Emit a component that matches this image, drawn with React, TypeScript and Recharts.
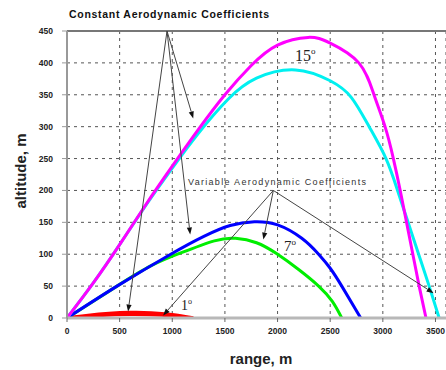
import React from 'react'
import { LineChart, Line, XAxis, YAxis, CartesianGrid, ReferenceLine, Customized } from 'recharts'

type Pt = { range: number; alt: number }

const RANGE_TICKS = [0, 500, 1000, 1500, 2000, 2500, 3000, 3500]
const ALT_TICKS = [0, 50, 100, 150, 200, 250, 300, 350, 400, 450]

// 15 deg, constant coefficients
const MAGENTA: Pt[] = [
  { range: 0, alt: 0 }, { range: 250, alt: 55 }, { range: 500, alt: 115 }, { range: 750, alt: 178 },
  { range: 1000, alt: 238 }, { range: 1250, alt: 296 }, { range: 1500, alt: 350 }, { range: 1750, alt: 396 },
  { range: 2000, alt: 428 }, { range: 2290, alt: 440 }, { range: 2500, alt: 431 }, { range: 2772, alt: 400 },
  { range: 2916, alt: 350 }, { range: 3021, alt: 300 }, { range: 3100, alt: 250 }, { range: 3165, alt: 200 },
  { range: 3225, alt: 150 }, { range: 3285, alt: 100 }, { range: 3345, alt: 50 }, { range: 3410, alt: 0 },
]
// 15 deg, variable coefficients
const CYAN: Pt[] = [
  { range: 0, alt: 0 }, { range: 250, alt: 55 }, { range: 500, alt: 115 }, { range: 750, alt: 177 },
  { range: 1000, alt: 235 }, { range: 1250, alt: 290 }, { range: 1530, alt: 343 }, { range: 1800, alt: 376 },
  { range: 2170, alt: 389 }, { range: 2500, alt: 372 }, { range: 2700, alt: 346 }, { range: 2870, alt: 300 },
  { range: 3030, alt: 250 }, { range: 3140, alt: 200 }, { range: 3240, alt: 150 }, { range: 3340, alt: 100 },
  { range: 3440, alt: 50 }, { range: 3535, alt: 0 },
]
// 7 deg
const BLUE: Pt[] = [
  { range: 0, alt: 0 }, { range: 475, alt: 50 }, { range: 985, alt: 100 }, { range: 1300, alt: 128 },
  { range: 1550, alt: 145 }, { range: 1780, alt: 151 }, { range: 2000, alt: 146 }, { range: 2230, alt: 125 },
  { range: 2390, alt: 100 }, { range: 2500, alt: 78 }, { range: 2610, alt: 50 }, { range: 2790, alt: 0 },
]
const GREEN: Pt[] = [
  { range: 0, alt: 0 }, { range: 475, alt: 50 }, { range: 800, alt: 82 }, { range: 1080, alt: 102 },
  { range: 1400, alt: 121 }, { range: 1600, alt: 125 }, { range: 1800, alt: 118 }, { range: 1990, alt: 101 },
  { range: 2200, alt: 76 }, { range: 2390, alt: 50 }, { range: 2520, alt: 26 }, { range: 2610, alt: 0 },
]
// 1 deg
const RED_A: Pt[] = [
  { range: 0, alt: 0 }, { range: 200, alt: 4 }, { range: 400, alt: 7 }, { range: 600, alt: 8.5 },
  { range: 800, alt: 8 }, { range: 1000, alt: 5 }, { range: 1200, alt: 0 },
]
const RED_B: Pt[] = [
  { range: 0, alt: 0 }, { range: 300, alt: 4 }, { range: 600, alt: 6 }, { range: 900, alt: 4.5 },
  { range: 1100, alt: 0 },
]

// annotation arrows: [from, to] in data units
const CONST_ARROWS: [Pt, Pt][] = [
  [{ range: 950, alt: 450 }, { range: 1199, alt: 313 }],
  [{ range: 950, alt: 450 }, { range: 1170, alt: 131 }],
  [{ range: 950, alt: 450 }, { range: 580, alt: 10 }],
]
const VAR_ARROWS: [Pt, Pt][] = [
  [{ range: 1960, alt: 200 }, { range: 1865, alt: 123 }],
  [{ range: 1960, alt: 200 }, { range: 913, alt: 4 }],
  [{ range: 1960, alt: 200 }, { range: 3482, alt: 39 }],
]

const W = 446
const H = 370

function Arrow(props: any) {
  const { x1, y1, x2, y2 } = props
  const a = Math.atan2(y2 - y1, x2 - x1)
  const len = 7
  const wid = 2.6
  const bx = x2 - len * Math.cos(a)
  const by = y2 - len * Math.sin(a)
  const px = -Math.sin(a) * wid
  const py = Math.cos(a) * wid
  return (
    <g>
      <line x1={x1} y1={y1} x2={bx} y2={by} stroke="#444" strokeWidth={1} />
      <polygon points={`${x2},${y2} ${bx + px},${by + py} ${bx - px},${by - py}`} fill="#111" />
    </g>
  )
}

function Texts() {
  const sans = '"Liberation Sans", Arial, sans-serif'
  const serif = '"Liberation Serif", "Times New Roman", serif'
  return (
    <g>
      <text x={69} y={18} fontFamily={sans} fontSize={10.5} fontWeight="bold" fill="#111" textLength={200} lengthAdjust="spacing">Constant Aerodynamic Coefficients</text>
      <text x={188} y={184.5} fontFamily={sans} fontSize={9} fill="#333" textLength={178} lengthAdjust="spacing">Variable Aerodynamic Coefficients</text>
      <text x={295} y={61} fontFamily={serif} fontSize={16} fill="#222">15<tspan dy={-7} fontSize={9}>o</tspan></text>
      <text x={284} y={251} fontFamily={serif} fontSize={15} fill="#222">7<tspan dy={-6} fontSize={9}>o</tspan></text>
      <text x={181} y={310} fontFamily={serif} fontSize={14} fill="#222">1<tspan dy={-6} fontSize={8}>o</tspan></text>
      <text x={261} y={364} textAnchor="middle" fontFamily={sans} fontSize={15} fontWeight="bold" fill="#222">range, m</text>
      <text x={26} y={171} textAnchor="middle" transform="rotate(-90 26 171)" fontFamily={sans} fontSize={15} fontWeight="bold" fill="#222">altitude, m</text>
    </g>
  )
}

export default function App() {
  const tickStyle = { fontSize: 8.5, fontWeight: 'bold' as const, fill: '#222', fontFamily: '"Liberation Sans", Arial, sans-serif' }
  return (
    <div style={{ position: 'absolute', left: 0, top: 0, width: W, height: H, background: '#fff' }}>
      <LineChart width={W} height={H} margin={{ top: 31, right: 0, bottom: 0, left: 0 }}>
        <CartesianGrid stroke="#555" strokeDasharray="3 4" strokeWidth={1} />
        <XAxis
          type="number"
          dataKey="range"
          domain={[0, 3600]}
          ticks={RANGE_TICKS}
          height={52}
          axisLine={{ stroke: '#b8b8b8', strokeWidth: 3 }}
          tickLine={{ stroke: '#666' }}
          tickSize={4}
          tickMargin={6}
          tick={tickStyle}
          allowDataOverflow
        />
        <YAxis
          type="number"
          dataKey="alt"
          domain={[0, 450]}
          ticks={ALT_TICKS}
          width={67}
          axisLine={{ stroke: '#999', strokeWidth: 2 }}
          tickLine={{ stroke: '#999' }}
          tickSize={5}
          tickMargin={9}
          tick={tickStyle}
          allowDataOverflow
        />
        <ReferenceLine y={450} stroke="#777" strokeWidth={2} ifOverflow="visible" />
        <Line data={RED_A} dataKey="alt" type="natural" stroke="#ff0000" strokeWidth={3.5} dot={false} isAnimationActive={false} />
        <Line data={RED_B} dataKey="alt" type="natural" stroke="#ff0000" strokeWidth={3.5} dot={false} isAnimationActive={false} />
        <Line data={GREEN} dataKey="alt" type="natural" stroke="#00ee00" strokeWidth={3} dot={false} isAnimationActive={false} />
        <Line data={BLUE} dataKey="alt" type="natural" stroke="#0000ff" strokeWidth={3} dot={false} isAnimationActive={false} />
        <Line data={CYAN} dataKey="alt" type="natural" stroke="#00f0f0" strokeWidth={3} dot={false} isAnimationActive={false} />
        <Line data={MAGENTA} dataKey="alt" type="natural" stroke="#ff00ff" strokeWidth={3} dot={false} isAnimationActive={false} />
        {[...CONST_ARROWS, ...VAR_ARROWS].map(([a, b], i) => (
          <ReferenceLine
            key={i}
            segment={[{ x: a.range, y: a.alt }, { x: b.range, y: b.alt }]}
            ifOverflow="visible"
            shape={Arrow}
          />
        ))}
        <Customized component={Texts} />
      </LineChart>
    </div>
  )
}
